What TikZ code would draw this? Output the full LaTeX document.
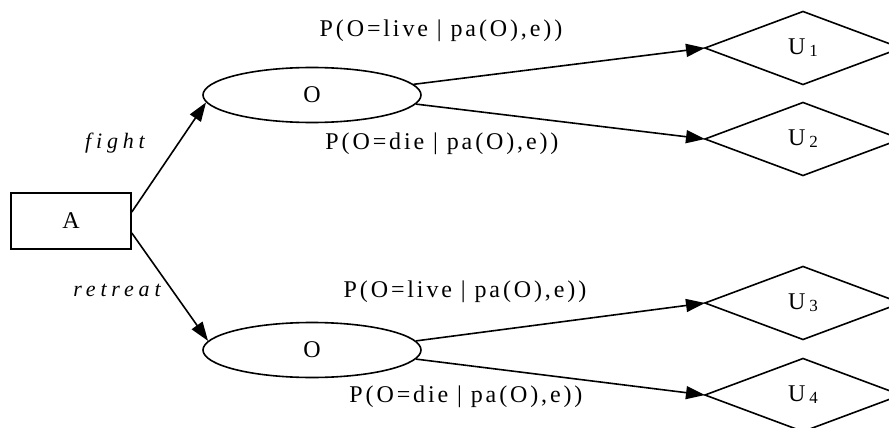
\documentclass[tikz,border=0pt]{standalone}
\usepackage{fontspec}
\setmainfont{Liberation Serif}
\newfontfamily\lblfont[LetterSpace=12]{Liberation Serif}
\newfontfamily\actfont[LetterSpace=22]{Liberation Serif}
\usetikzlibrary{shapes.geometric,arrows.meta}

\begin{document}
\begin{tikzpicture}[x=1pt,y=-1pt,
  line width=1.6pt,
  every node/.style={font=\fontsize{24}{26}\selectfont},
  choice/.style={draw,rectangle,minimum width=120pt,minimum height=56pt,inner sep=0pt},
  chance/.style={draw,ellipse,minimum width=218pt,minimum height=55pt,inner sep=0pt},
  utility/.style={draw,diamond,aspect=2.68,minimum width=196pt,minimum height=73pt,inner sep=0pt,outer sep=0pt},
  edgelbl/.style={font=\lblfont\fontsize{24}{26}\selectfont,inner sep=0pt},
  actlbl/.style={font=\actfont\itshape\fontsize{22}{24}\selectfont,inner sep=0pt},
  link/.style={-{Triangle[length=19pt,width=13pt]}}]

\clip (0,0) rectangle (889,428);

% decision node and the two chance nodes
\node[choice] (a) at (71,221) {A};
\node[chance] (o1) at (312,95) {O};
\node[chance] (o2) at (312,350) {O};

% utility nodes
\newcommand{\utext}[1]{U\,\raisebox{-2pt}{\fontsize{17}{17}\selectfont #1}}
\node[utility] (u1) at (803,48)  {\utext{1}};
\node[utility] (u2) at (803,139) {\utext{2}};
\node[utility] (u3) at (803,303) {\utext{3}};
\node[utility] (u4) at (803,395) {\utext{4}};

% edges
\draw[link] ([yshift=9pt]a.east) -- (o1.184);
\draw[link] ([yshift=-12pt]a.east) -- (o2.175);
\draw[link] (o1.6) -- (u1.west);
\draw[link] (o1.-5) -- (u2.west);
\draw[link] (o2.5.5) -- (u3.west);
\draw[link] (o2.-5) -- (u4.west);

% edge labels
\node[actlbl] (lf) at (115,143) {fight};
\node[actlbl] (lr) at (117,290) {retreat};
\node[edgelbl] (l1) at (441,31)  {P(O=live | pa(O),e))};
\node[edgelbl] (l2) at (442,144) {P(O=die | pa(O),e))};
\node[edgelbl] (l3) at (465,292) {P(O=live | pa(O),e))};
\node[edgelbl] (l4) at (466,397) {P(O=die | pa(O),e))};
\end{tikzpicture}
\end{document}
